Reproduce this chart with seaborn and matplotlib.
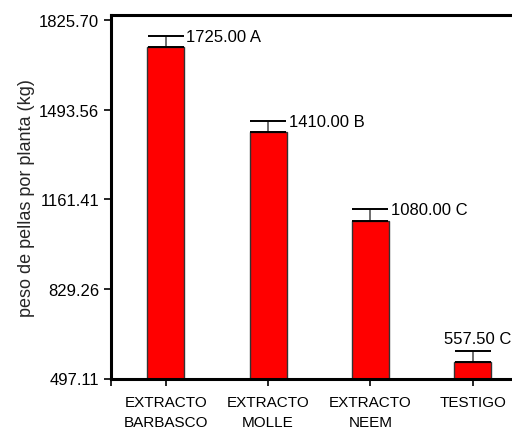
import matplotlib
matplotlib.use("Agg")
import matplotlib.pyplot as plt
import seaborn as sns
import pandas as pd

# Treatment means, upper standard errors and significance letters
categories = ["EXTRACTO\nBARBASCO", "EXTRACTO\nMOLLE", "EXTRACTO\nNEEM", "TESTIGO"]
means = [1725.00, 1410.00, 1080.00, 557.50]
errors = [41.0, 40.0, 44.0, 40.0]
letters = ["A", "B", "C", "C"]
ytick_values = [497.11, 829.26, 1161.41, 1493.56, 1825.70]
ytick_labels = ["497.11", "829.26", "1161.41", "1493.56", "1825.70"]

sns.set_style("ticks")
plt.rcParams["font.family"] = ["Liberation Sans", "DejaVu Sans"]

df = pd.DataFrame({"tratamiento": categories, "peso": means})

fig = plt.figure(figsize=(5.12, 4.31), dpi=100)
ax = fig.add_axes([111 / 512, 51.5 / 431, 416 / 512, 363.5 / 431])

sns.barplot(data=df, x="tratamiento", y="peso", ax=ax, color="#ff0000",
            saturation=1, width=0.36, edgecolor="#333333", linewidth=1.0,
            errorbar=None)

xs = list(range(len(means)))
eb = ax.errorbar(xs, means, yerr=[[0] * len(errors), errors], fmt="none",
                 ecolor="#555555", elinewidth=1.2, capsize=13.3, capthick=1.4)
for cap in eb[1]:
    cap.set_color("black")
    cap.set_markeredgecolor("black")

# Value labels with significance letters
for i, (m, e, l) in enumerate(zip(means, errors, letters)):
    txt = f"{m:.2f} {l}"
    if i < len(means) - 1:
        ax.text(i + 0.2, m + e, txt, ha="left", va="center", fontsize=12,
                color="black")
    else:
        ax.text(i + 0.05, m + e + 46, txt, ha="center", va="center",
                fontsize=12, color="black")

ax.set_xlim(-0.535, 3.53)
ax.set_ylim(497.11, 1844.0)
ax.set_yticks(ytick_values)
ax.set_yticklabels(ytick_labels, fontsize=12)
ax.set_xticks(xs)
ax.set_xticklabels(categories, fontsize=11, linespacing=1.5)
ax.set_xticks([-0.535], minor=True)
ax.set_xlabel("")
ax.set_ylabel("peso de pellas por planta (kg)", fontsize=13, labelpad=3)

for side in ["left", "bottom", "top"]:
    ax.spines[side].set_linewidth(2.2)
    ax.spines[side].set_color("black")
ax.spines["right"].set_visible(False)
ax.tick_params(axis="both", which="both", length=5, width=1.2, color="black",
               labelcolor="black")
ax.tick_params(axis="x", pad=7)

fig.savefig("out.png", dpi=100)
